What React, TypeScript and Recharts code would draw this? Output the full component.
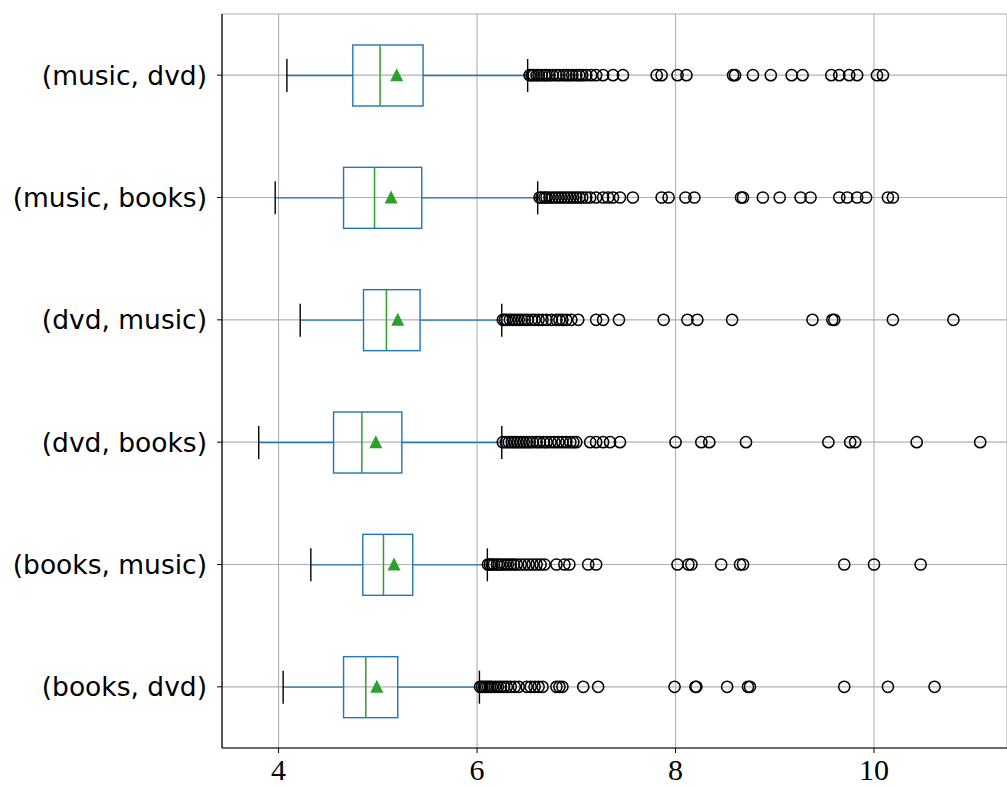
import { Bar, CartesianGrid, ComposedChart, Scatter, XAxis, YAxis } from "recharts";

const categories = [
    "(music, dvd)",
    "(music, books)",
    "(dvd, music)",
    "(dvd, books)",
    "(books, music)",
    "(books, dvd)",
];
const whiskerLow = [4.084, 3.966, 4.218, 3.8, 4.325, 4.046];
const q1 = [4.748, 4.655, 4.856, 4.554, 4.849, 4.655];
const medians = [5.023, 4.967, 5.087, 4.839, 5.057, 4.879];
const means = [5.19, 5.134, 5.201, 4.98, 5.164, 4.99];
const q3 = [5.456, 5.443, 5.426, 5.242, 5.352, 5.201];
const whiskerHigh = [6.51, 6.611, 6.249, 6.249, 6.104, 6.024];
const outliers: number[][] = [
    [6.53, 6.55, 6.57, 6.6, 6.62, 6.65, 6.68, 6.7, 6.73, 6.76, 6.8, 6.83, 6.87, 6.9, 6.93, 6.96, 7.0, 7.03, 7.06, 7.1, 7.15, 7.2, 7.27, 7.37, 7.47, 7.81, 7.86, 8.02, 8.11, 8.58, 8.6, 8.78, 8.96, 9.17, 9.28, 9.57, 9.65, 9.75, 9.83, 10.03, 10.09],
    [6.63, 6.65, 6.68, 6.7, 6.73, 6.76, 6.79, 6.82, 6.85, 6.88, 6.91, 6.94, 6.97, 7.0, 7.03, 7.06, 7.1, 7.14, 7.2, 7.27, 7.32, 7.37, 7.44, 7.57, 7.86, 7.93, 8.1, 8.19, 8.66, 8.68, 8.88, 9.05, 9.26, 9.36, 9.65, 9.73, 9.83, 9.92, 10.14, 10.19],
    [6.26, 6.28, 6.3, 6.33, 6.36, 6.39, 6.42, 6.45, 6.48, 6.51, 6.55, 6.58, 6.62, 6.66, 6.7, 6.75, 6.8, 6.83, 6.86, 6.9, 6.95, 7.02, 7.2, 7.27, 7.43, 7.88, 8.12, 8.22, 8.57, 9.38, 9.58, 9.6, 10.19, 10.8],
    [6.26, 6.29, 6.32, 6.35, 6.38, 6.41, 6.44, 6.47, 6.5, 6.53, 6.56, 6.6, 6.63, 6.67, 6.7, 6.74, 6.78, 6.82, 6.86, 6.9, 6.94, 6.97, 7.0, 7.14, 7.2, 7.27, 7.34, 7.44, 8.0, 8.26, 8.34, 8.71, 9.54, 9.76, 9.81, 10.43, 11.07],
    [6.11, 6.13, 6.15, 6.17, 6.2, 6.22, 6.25, 6.28, 6.31, 6.34, 6.37, 6.4, 6.44, 6.48, 6.52, 6.56, 6.6, 6.64, 6.68, 6.8, 6.88, 6.93, 7.12, 7.2, 8.02, 8.13, 8.16, 8.46, 8.65, 8.68, 9.7, 10.0, 10.47],
    [6.03, 6.05, 6.07, 6.09, 6.11, 6.13, 6.15, 6.18, 6.21, 6.24, 6.27, 6.3, 6.34, 6.38, 6.42, 6.5, 6.54, 6.58, 6.62, 6.66, 6.8, 6.83, 6.86, 7.07, 7.22, 7.99, 8.2, 8.21, 8.52, 8.73, 8.75, 9.7, 10.14, 10.61],
];
const xTicks = [4, 6, 8, 10];

const BLUE = "#1f77b4";
const GREEN = "#2ca02c";
const BOX_H = 61;
const CAP_H = 33;

const rows = categories.map((name, i) => ({
    name,
    lo: whiskerLow[i],
    q1: q1[i],
    med: medians[i],
    mean: means[i],
    q3: q3[i],
    hi: whiskerHigh[i],
}));

const medianPts = categories.map((name, i) => ({ name, v: medians[i] }));
const meanPts = categories.map((name, i) => ({ name, v: means[i] }));
const outlierPts = categories.flatMap((name, i) => outliers[i].map((v) => ({ name, v })));

function BoxShape(props: any) {
    const { x, y, width, height } = props;
    return <rect x={x} y={y} width={width} height={height} fill="none" stroke={BLUE} strokeWidth={1.4} />;
}

function LowWhisker(props: any) {
    const { x, y, width, height } = props;
    const cy = y + height / 2;
    return (
        <g>
            <line x1={x} x2={x + width} y1={cy} y2={cy} stroke={BLUE} strokeWidth={1.4} />
            <line x1={x} x2={x} y1={cy - CAP_H / 2} y2={cy + CAP_H / 2} stroke="#000" strokeWidth={1.4} />
        </g>
    );
}

function HighWhisker(props: any) {
    const { x, y, width, height } = props;
    const cy = y + height / 2;
    return (
        <g>
            <line x1={x} x2={x + width} y1={cy} y2={cy} stroke={BLUE} strokeWidth={1.4} />
            <line x1={x + width} x2={x + width} y1={cy - CAP_H / 2} y2={cy + CAP_H / 2} stroke="#000" strokeWidth={1.4} />
        </g>
    );
}

function MedianShape(props: any) {
    const { cx, cy } = props;
    return <line x1={cx} x2={cx} y1={cy - BOX_H / 2} y2={cy + BOX_H / 2} stroke={GREEN} strokeWidth={1.5} />;
}

function MeanShape(props: any) {
    const { cx, cy } = props;
    return <polygon points={`${cx},${cy - 7} ${cx - 6.5},${cy + 6} ${cx + 6.5},${cy + 6}`} fill={GREEN} />;
}

function OutlierShape(props: any) {
    const { cx, cy } = props;
    return <circle cx={cx} cy={cy} r={5.6} fill="none" stroke="#000" strokeWidth={1.5} />;
}

export default function App() {
    const domain: [number, number] = [3.43, 11.34];
    return (
        <div style={{ position: "absolute", left: 0, top: 0, width: 1007, height: 789, background: "#fff" }}>
            <ComposedChart
                width={1007}
                height={789}
                data={rows}
                layout="vertical"
                margin={{ top: 14, right: 0, bottom: 0, left: 0 }}
            >
                <CartesianGrid stroke="#b0b0b0" strokeWidth={1.1} />
                <XAxis
                    type="number"
                    domain={domain}
                    ticks={xTicks}
                    allowDataOverflow
                    height={41}
                    tickSize={5}
                    tickMargin={6}
                    tickLine={{ stroke: "#000" }}
                    axisLine={{ stroke: "#000", strokeWidth: 1.2 }}
                    tick={{ fill: "#000", fontFamily: "Liberation Serif", fontSize: 30 }}
                />
                <XAxis
                    xAxisId="top"
                    orientation="top"
                    type="number"
                    domain={domain}
                    allowDataOverflow
                    height={0}
                    tick={false}
                    tickLine={false}
                    axisLine={{ stroke: "#000", strokeWidth: 1.2 }}
                />
                <YAxis
                    type="category"
                    dataKey="name"
                    width={222}
                    allowDuplicatedCategory={false}
                    tickSize={5}
                    tickMargin={10}
                    tickLine={{ stroke: "#000" }}
                    axisLine={{ stroke: "#000", strokeWidth: 1.2 }}
                    tick={{ fill: "#000", fontFamily: "DejaVu Sans", fontSize: 26.5 }}
                />
                <YAxis yAxisId="lo" type="category" dataKey="name" hide />
                <YAxis yAxisId="hi" type="category" dataKey="name" hide />
                <Bar
                    yAxisId="lo"
                    dataKey={(d: any) => [d.lo, d.q1]}
                    barSize={BOX_H}
                    shape={LowWhisker}
                    isAnimationActive={false}
                />
                <Bar
                    yAxisId="hi"
                    dataKey={(d: any) => [d.q3, d.hi]}
                    barSize={BOX_H}
                    shape={HighWhisker}
                    isAnimationActive={false}
                />
                <Bar
                    dataKey={(d: any) => [d.q1, d.q3]}
                    barSize={BOX_H}
                    shape={BoxShape}
                    isAnimationActive={false}
                />
                <Scatter data={outlierPts} dataKey="v" shape={OutlierShape} isAnimationActive={false} />
                <Scatter data={medianPts} dataKey="v" shape={MedianShape} isAnimationActive={false} />
                <Scatter data={meanPts} dataKey="v" shape={MeanShape} isAnimationActive={false} />
            </ComposedChart>
        </div>
    );
}
